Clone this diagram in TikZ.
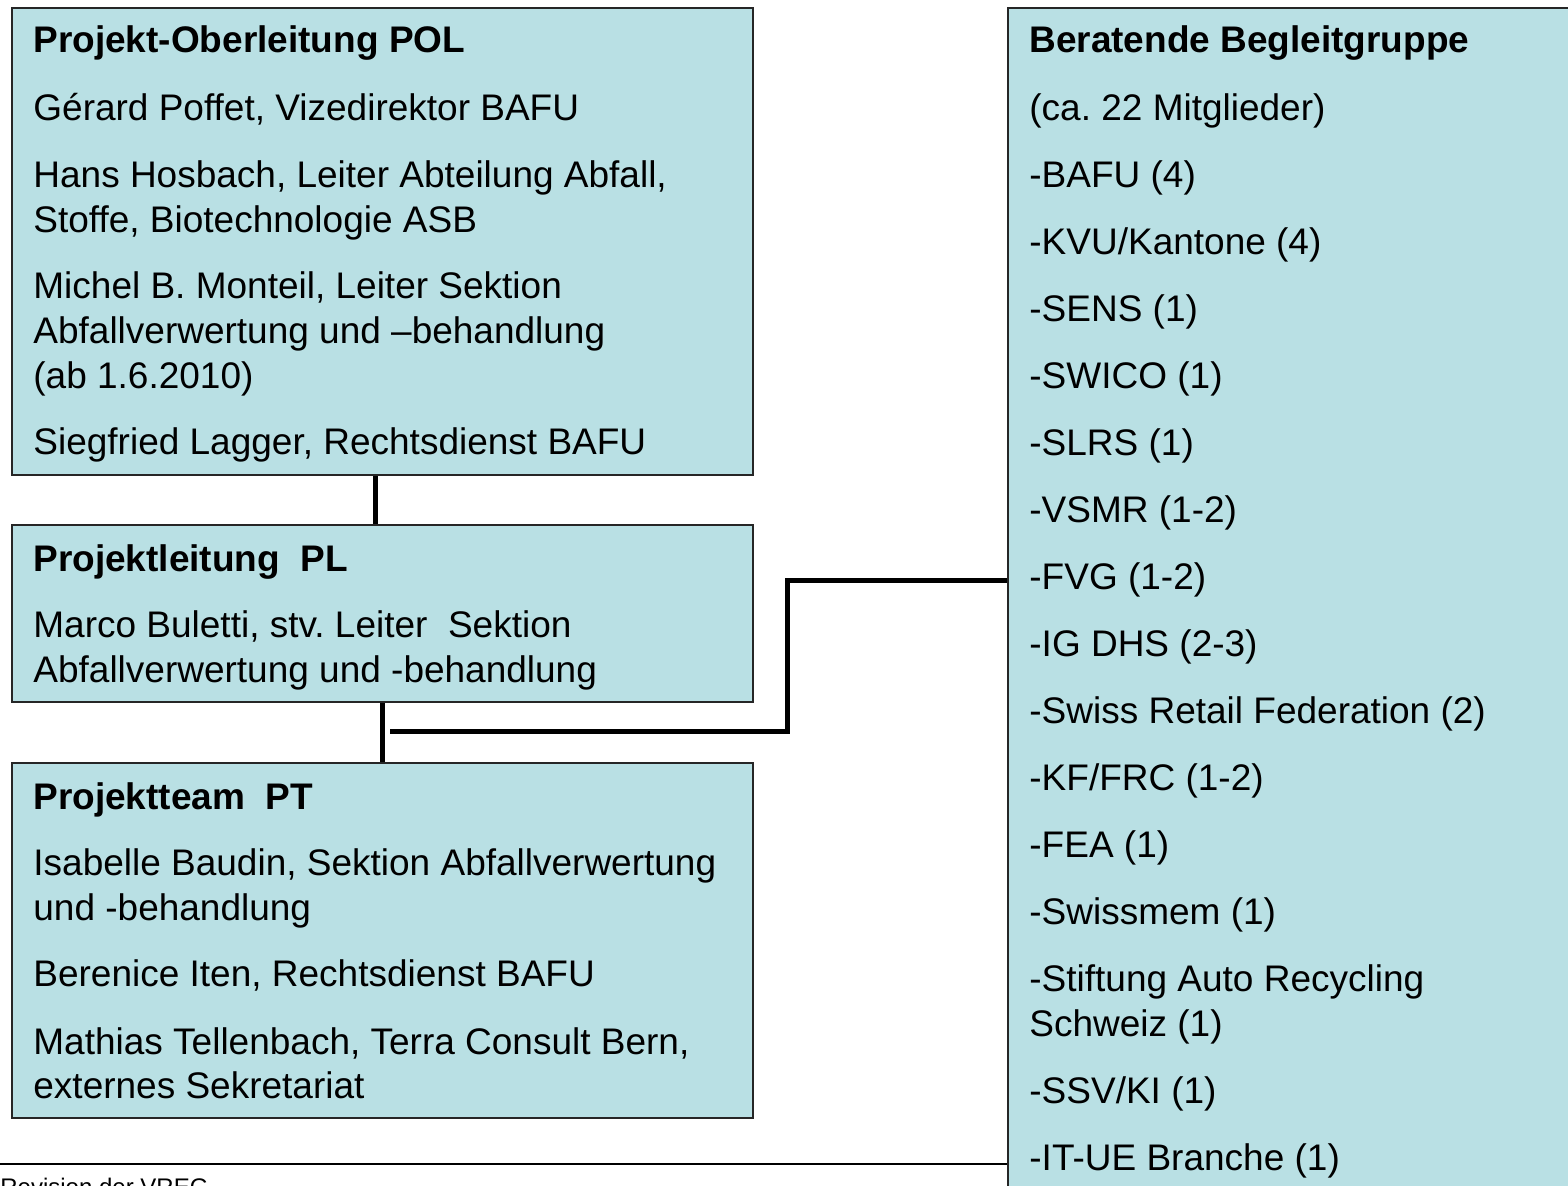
\documentclass[tikz,border=0pt]{standalone}
\usepackage{fontspec}
\setmainfont{Liberation Sans}
\frenchspacing
\definecolor{boxblue}{RGB}{185,224,228}
\tikzset{
  orgbox/.style={draw=black!85, line width=1pt, fill=boxblue, rectangle, anchor=north west, inner sep=0pt},
  txt/.style={anchor=base west, inner sep=0pt, font=\fontsize{18.5}{22.5}\selectfont},
  hd/.style={anchor=base west, inner sep=0pt, font=\fontsize{18.5}{22.5}\selectfont\bfseries},
  conn/.style={line width=2.5pt},
}
\begin{document}
\begin{tikzpicture}[x=0.5pt, y=-0.5pt]
    \useasboundingbox (0,0) rectangle (1568,1185);
    % boxes
    \node (pol) [orgbox, minimum width=370.5pt, minimum height=233.5pt] at (11,7) {};
    \node (pl) [orgbox, minimum width=370.5pt, minimum height=88.5pt] at (11,524) {};
    \node (pt) [orgbox, minimum width=370.5pt, minimum height=177.5pt] at (11,762) {};
    \node (bbg) [orgbox, minimum width=300pt, minimum height=610pt] at (1007,7) {};
    % Projekt-Oberleitung
    \node (pol0) [hd] at (33,52) {Projekt-Oberleitung POL};
    \node (pol1) [txt] at (33,120) {Gérard Poffet, Vizedirektor BAFU};
    \node (pol2) [txt] at (33,187) {Hans Hosbach, Leiter Abteilung Abfall,};
    \node (pol3) [txt] at (33,232) {Stoffe, Biotechnologie ASB};
    \node (pol4) [txt] at (33,298) {Michel B. Monteil, Leiter Sektion};
    \node (pol5) [txt] at (33,343) {Abfallverwertung und –behandlung};
    \node (pol6) [txt] at (33,388) {(ab 1.6.2010)};
    \node (pol7) [txt] at (33,454) {Siegfried Lagger, Rechtsdienst BAFU};
    % Projektleitung
    \node (pl0) [hd] at (33,571) {Projektleitung\ \ PL};
    \node (pl1) [txt] at (33,637) {Marco Buletti, stv. Leiter\ \ Sektion};
    \node (pl2) [txt] at (33,682) {Abfallverwertung und -behandlung};
    % Projektteam
    \node (pt0) [hd] at (33,809) {Projektteam\ \ PT};
    \node (pt1) [txt] at (33,875) {Isabelle Baudin, Sektion Abfallverwertung};
    \node (pt2) [txt] at (33,920) {und -behandlung};
    \node (pt3) [txt] at (33,986) {Berenice Iten, Rechtsdienst BAFU};
    \node (pt4) [txt] at (33,1054) {Mathias Tellenbach, Terra Consult Bern,};
    \node (pt5) [txt] at (33,1098) {externes Sekretariat};
    % Begleitgruppe
    \node (bbg0) [hd] at (1029,52) {Beratende Begleitgruppe};
    \node (bbg1) [txt] at (1029,120) {(ca. 22 Mitglieder)};
    \node (bbg2) [txt] at (1029,187) {-BAFU (4)};
    \node (bbg3) [txt] at (1029,254) {-KVU/Kantone (4)};
    \node (bbg4) [txt] at (1029,321) {-SENS (1)};
    \node (bbg5) [txt] at (1029,388) {-SWICO (1)};
    \node (bbg6) [txt] at (1029,455) {-SLRS (1)};
    \node (bbg7) [txt] at (1029,522) {-VSMR (1-2)};
    \node (bbg8) [txt] at (1029,589) {-FVG (1-2)};
    \node (bbg9) [txt] at (1029,656) {-IG DHS (2-3)};
    \node (bbg10) [txt] at (1029,723) {-Swiss Retail Federation (2)};
    \node (bbg11) [txt] at (1029,790) {-KF/FRC (1-2)};
    \node (bbg12) [txt] at (1029,857) {-FEA (1)};
    \node (bbg13) [txt] at (1029,924) {-Swissmem (1)};
    \node (bbg14) [txt] at (1029,991) {-Stiftung Auto Recycling};
    \node (bbg15) [txt] at (1029,1036) {Schweiz (1)};
    \node (bbg16) [txt] at (1029,1103) {-SSV/KI (1)};
    \node (bbg17) [txt] at (1029,1170) {-IT-UE Branche (1)};
    % connectors
    \draw[conn] ([xshift=-3.75pt]pol.south) -- ([xshift=-3.75pt]pl.north);
    \draw[conn] (pl.south) -- (pt.north);
    \coordinate (plbranch) at (390,731);
    \coordinate (hookpt) at (787,580);
    \draw[conn] (plbranch) -| (hookpt) -- (hookpt -| bbg.west);
    % footer
    \coordinate (footl) at (0,1164);
    \draw[line width=1pt] (footl) -- (footl -| bbg.west);
    \node (foot) [anchor=base west, inner sep=0pt, font=\fontsize{12}{14}\selectfont] at (0,1195) {Revision der VREG};
\end{tikzpicture}
\end{document}
